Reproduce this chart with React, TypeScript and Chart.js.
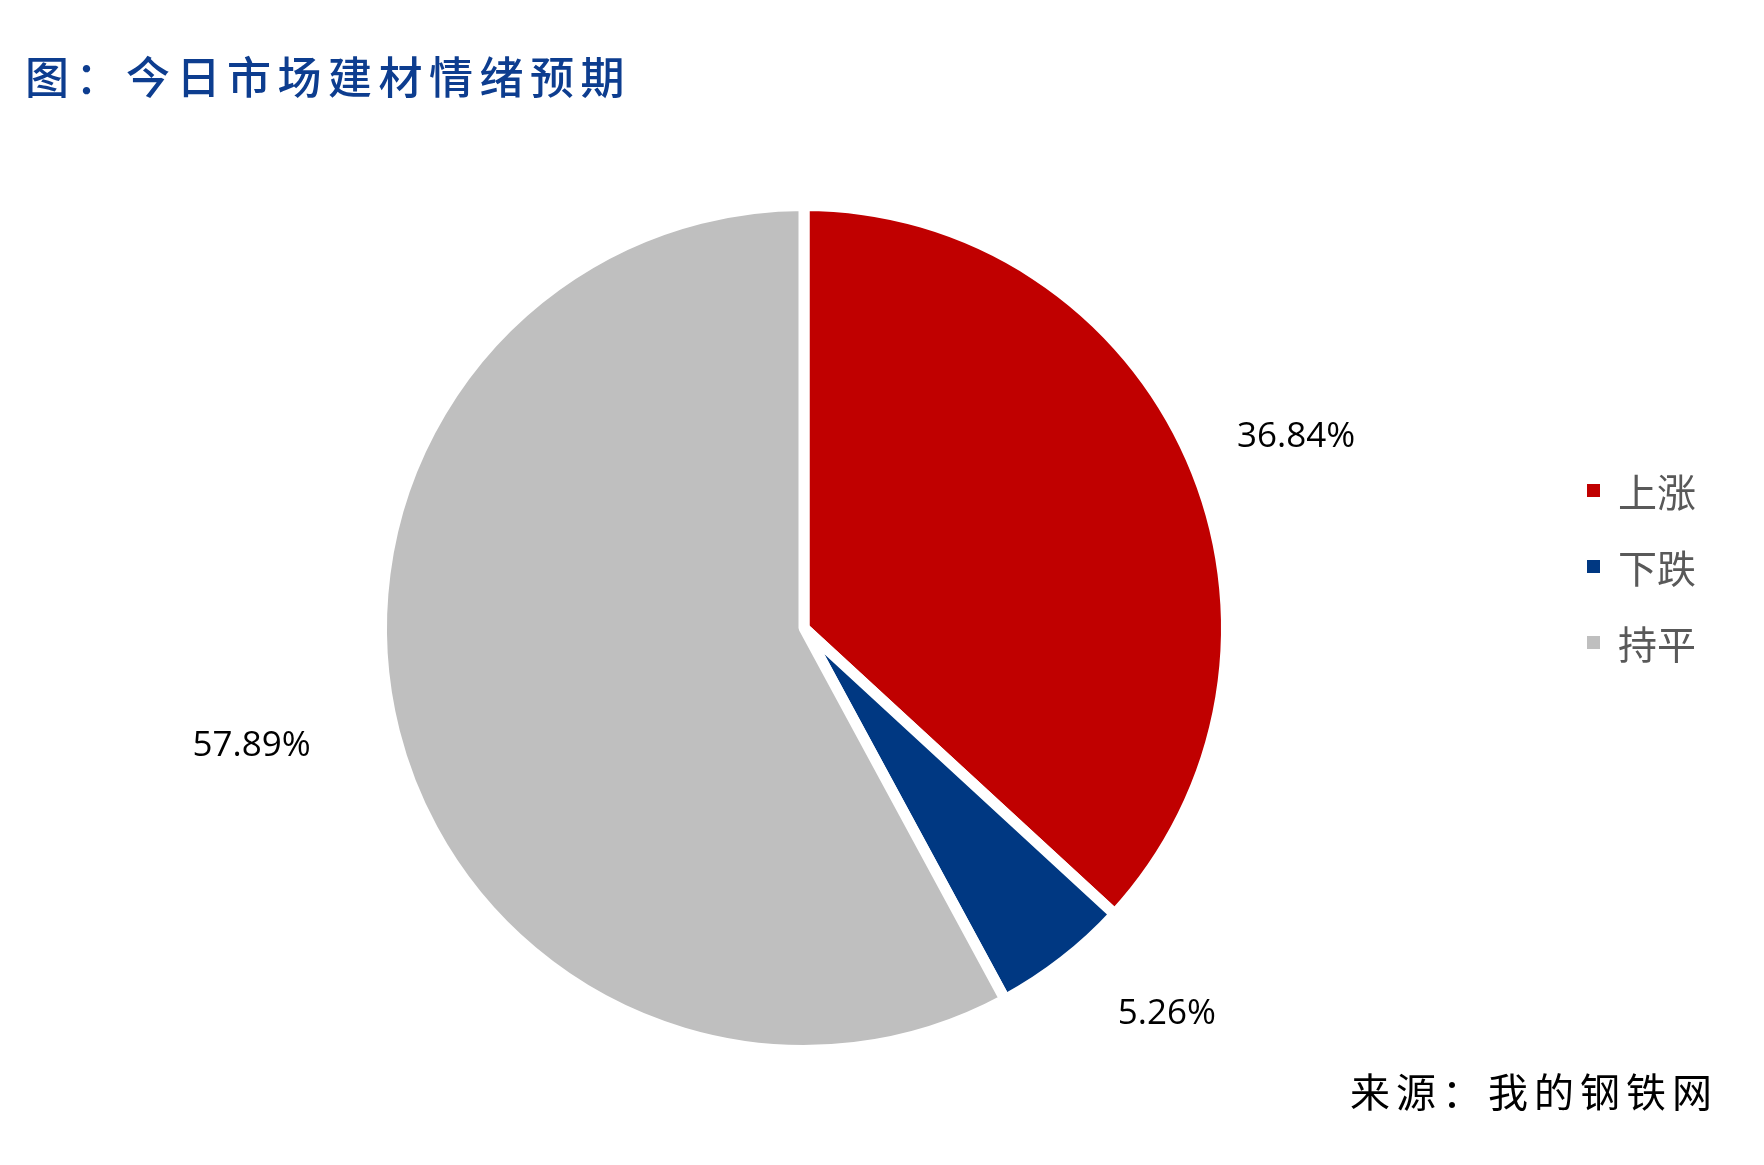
import React, { useEffect, useRef } from "react";
import { Chart, registerables } from "chart.js";

Chart.register(...registerables);

// chart data
const categories = ["上涨", "下跌", "持平"];
const shares = [36.84, 5.26, 57.89];
const sliceColors = ["#C00000", "#003882", "#BFBFBF"];
const chartTitle = "图：今日市场建材情绪预期";
const sourceNote = "来源：我的钢铁网";

// small nudges (px) applied to each percent label after placing it along the slice's mid angle
const labelNudges = [
  [-7, 28],
  [28, -44],
  [-24, -16],
];

// percent labels outside each slice
const outsideLabels = {
  id: "outsideLabels",
  afterDatasetsDraw(chart: any) {
    const { ctx } = chart;
    const meta = chart.getDatasetMeta(0);
    ctx.save();
    ctx.font = '35px "Open Sans"';
    ctx.fillStyle = "#000000";
    ctx.textAlign = "center";
    ctx.textBaseline = "middle";
    meta.data.forEach((arc: any, i: number) => {
      const { x, y, startAngle, endAngle, outerRadius } = arc.getProps(
        ["x", "y", "startAngle", "endAngle", "outerRadius"],
        true,
      );
      const mid = (startAngle + endAngle) / 2;
      const d = outerRadius * 1.29;
      ctx.fillText(
        shares[i].toFixed(2) + "%",
        x + Math.cos(mid) * d + labelNudges[i][0],
        y + Math.sin(mid) * d + labelNudges[i][1],
      );
    });
    ctx.restore();
  },
};

const App = () => {
  const chartRef = useRef<HTMLCanvasElement>(null);

  useEffect(() => {
    if (!chartRef.current) return;
    const ctx = chartRef.current.getContext("2d");
    if (!ctx) return;

    const pieChart = new Chart(ctx, {
      type: "pie",
      data: {
        labels: categories,
        datasets: [
          {
            data: shares,
            backgroundColor: sliceColors,
            borderColor: "#ffffff",
            borderWidth: 11,
            hoverOffset: 0,
          },
        ],
      },
      options: {
        animation: false,
        responsive: true,
        maintainAspectRatio: false,
        layout: {
          padding: { left: 0, right: 156, top: 200, bottom: 109 },
        },
        plugins: {
          legend: { display: false },
          tooltip: { enabled: false },
        },
      },
      plugins: [outsideLabels],
    });

    return () => {
      pieChart.destroy();
    };
  }, []);

  return (
    <div
      style={{
        position: "absolute",
        left: 0,
        top: 0,
        width: 1764,
        height: 1165,
        background: "#ffffff",
        overflow: "hidden",
      }}
    >
      <div style={{ position: "absolute", left: 0, top: 0, width: 1764, height: 1165 }}>
        <canvas ref={chartRef}></canvas>
      </div>
      <div
        style={{
          position: "absolute",
          left: 25,
          top: 48,
          fontFamily: '"Noto Sans CJK SC"',
          fontSize: 44,
          fontWeight: 500,
          letterSpacing: 6.5,
          lineHeight: "54px",
          color: "#0D3D8F",
          whiteSpace: "nowrap",
        }}
      >
        {chartTitle}
      </div>
      {categories.map((name, i) => (
        <div
          key={name}
          style={{
            position: "absolute",
            left: 1587,
            top: 494 + i * 76 - 28,
            height: 48,
            display: "flex",
            alignItems: "center",
            fontFamily: '"Noto Sans CJK SC"',
            fontSize: 39,
            color: "#595959",
            whiteSpace: "nowrap",
          }}
        >
          <span
            style={{
              display: "inline-block",
              width: 13,
              height: 13,
              background: sliceColors[i],
              marginRight: 18,
            }}
          ></span>
          {name}
        </div>
      ))}
      <div
        style={{
          position: "absolute",
          left: 1350,
          top: 1064,
          fontFamily: '"Noto Sans CJK SC"',
          fontSize: 40,
          letterSpacing: 6,
          lineHeight: "52px",
          color: "#000000",
          whiteSpace: "nowrap",
        }}
      >
        {sourceNote}
      </div>
    </div>
  );
};

export default App;
